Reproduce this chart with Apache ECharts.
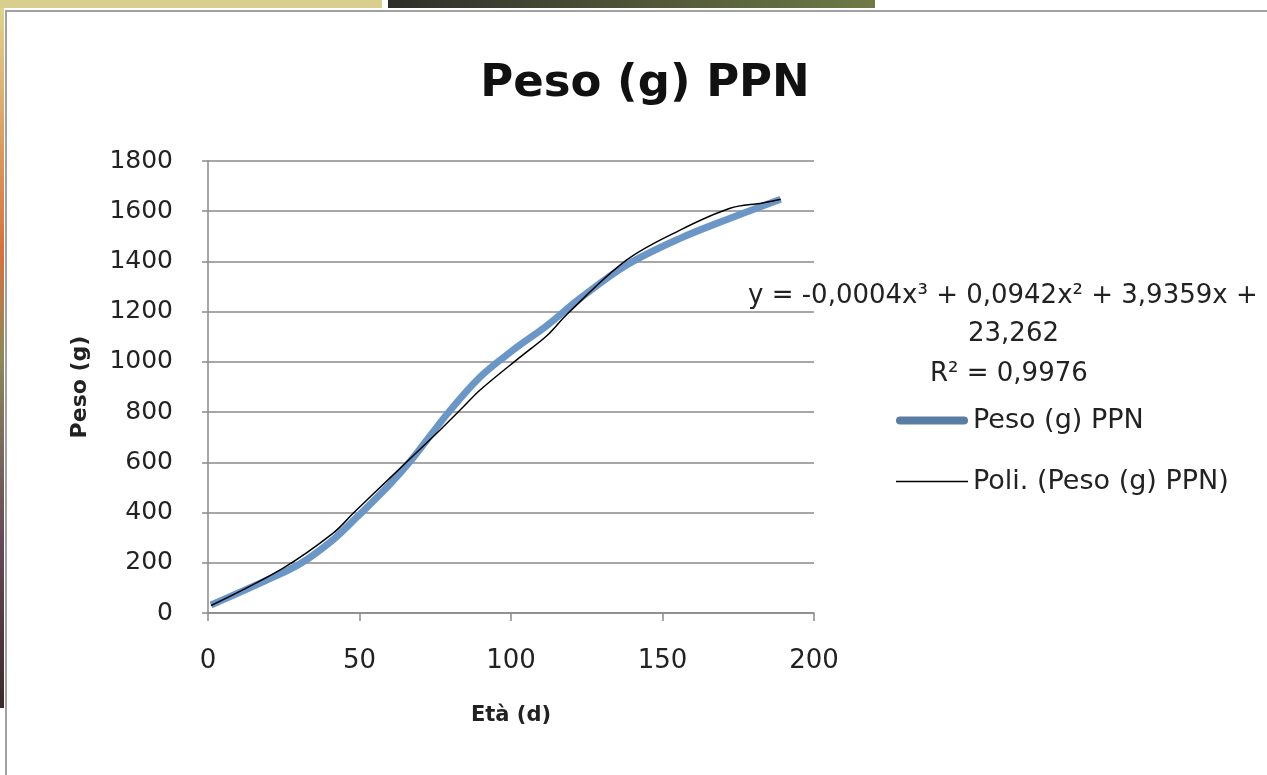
<!DOCTYPE html>
<html>
<head>
<meta charset="utf-8">
<script src="https://cdn.jsdelivr.net/npm/echarts@6/dist/echarts.min.js"></script>
<style>
  html, body { margin: 0; padding: 0; background: #fff; }
  #chart { width: 1267px; height: 775px; }
</style>
</head>
<body>
<div id="chart"></div>
<script>
// dati
var eta = [1, 19.4, 30.4, 41.3, 49, 60, 67.7, 78.9, 89.8, 100.7, 111.9, 122.8, 138.2, 155.8, 172.3, 189];
var peso = [32, 131, 196, 292, 380, 512, 618, 792, 940, 1047, 1145, 1253, 1386, 1492, 1572, 1648];
var etaPoli = [1, 24.8, 41.3, 48, 60, 76.6, 84.2, 89.8, 103, 111.9, 118.5, 138.2, 155.8, 172.3, 183, 189];
var pesoPoli = [30, 179, 318, 398, 537, 729, 820, 888, 1019, 1105, 1190, 1406, 1525, 1612, 1633, 1648];
var xTicks = [0, 50, 100, 150, 200];
var yTicks = [0, 200, 400, 600, 800, 1000, 1200, 1400, 1600, 1800];

var font = '"DejaVu Sans", sans-serif';

function pairs(xs, ys) {
  return xs.map(function (x, i) { return [x, ys[i]]; });
}

var chart = echarts.init(document.getElementById('chart'));

var option = {
  backgroundColor: '#fff',
  animation: false,
  title: {
    text: 'Peso (g) PPN',
    left: 640,
    top: 57,
    textAlign: 'center',
    textStyle: {
      fontFamily: font,
      fontSize: 45,
      fontWeight: 'bold',
      color: '#111'
    }
  },
  grid: {
    left: 208,
    right: 453,
    top: 161,
    bottom: 162
  },
  legend: {
    orient: 'vertical',
    left: 891,
    top: 402,
    itemWidth: 72,
    itemHeight: 30,
    itemGap: 34,
    textStyle: {
      fontFamily: font,
      fontSize: 27,
      color: '#222'
    },
    data: [
      { name: 'Peso (g) PPN', icon: 'path://M4,0 L68,0 A4,4 0 0 1 68,8 L4,8 A4,4 0 0 1 4,0 Z' },
      { name: 'Poli. (Peso (g) PPN)', icon: 'path://M0,0 L72,0 L72,1.6 L0,1.6 Z' }
    ]
  },
  xAxis: {
    type: 'value',
    min: xTicks[0],
    max: xTicks[xTicks.length - 1],
    interval: 50,
    name: 'Età (d)',
    nameLocation: 'middle',
    nameGap: 92,
    nameTextStyle: {
      fontFamily: font,
      fontSize: 21,
      fontWeight: 'bold',
      color: '#222'
    },
    axisLine: { lineStyle: { color: '#8a8a8a', width: 1.5 } },
    axisTick: { show: true, length: 8, lineStyle: { color: '#8a8a8a', width: 1.5 } },
    axisLabel: {
      margin: 35,
      fontFamily: font,
      fontSize: 26,
      color: '#222'
    },
    splitLine: { show: false }
  },
  yAxis: {
    type: 'value',
    min: yTicks[0],
    max: yTicks[yTicks.length - 1],
    interval: 200,
    name: 'Peso (g)',
    nameLocation: 'middle',
    nameGap: 117,
    nameRotate: 90,
    nameTextStyle: {
      fontFamily: font,
      fontSize: 22,
      fontWeight: 'bold',
      color: '#222'
    },
    axisLine: { show: true, lineStyle: { color: '#8a8a8a', width: 1.5 } },
    axisTick: { show: true, length: 6, lineStyle: { color: '#8a8a8a', width: 1.5 } },
    axisLabel: {
      margin: 35,
      fontFamily: font,
      fontSize: 25,
      color: '#222',
      formatter: function (v) { return String(v); }
    },
    splitLine: { show: true, lineStyle: { color: '#8a8a8a', width: 1.5 } }
  },
  series: [
    {
      name: 'Peso (g) PPN',
      type: 'line',
      smooth: 0.35,
      symbol: 'none',
      itemStyle: { color: '#5a7ea3' },
      lineStyle: { width: 7, color: '#6a96c8' },
      data: pairs(eta, peso),
      z: 2
    },
    {
      name: 'Poli. (Peso (g) PPN)',
      type: 'line',
      smooth: 0.35,
      symbol: 'none',
      itemStyle: { color: '#000' },
      lineStyle: { width: 1.5, color: '#000' },
      data: pairs(etaPoli, pesoPoli),
      z: 3
    }
  ],
  graphic: [
    // cornice del grafico
    { type: 'rect', shape: { x: 6, y: 11, width: 1300, height: 800 }, style: { fill: 'none', stroke: '#a0a0a0', lineWidth: 2 }, silent: true },
    // frammenti dell'immagine di sfondo
    { type: 'rect', shape: { x: 0, y: 0, width: 382, height: 8 }, style: { fill: '#d8cf8c' }, silent: true },
    { type: 'rect', shape: { x: 388, y: 0, width: 487, height: 8 },
      style: { fill: new echarts.graphic.LinearGradient(0, 0, 1, 0, [{ offset: 0, color: '#2e2e2a' }, { offset: 1, color: '#6f7a45' }]) }, silent: true },
    { type: 'rect', shape: { x: 0, y: 8, width: 4, height: 700 },
      style: { fill: new echarts.graphic.LinearGradient(0, 0, 0, 1, [{ offset: 0, color: '#e0d48a' }, { offset: 0.35, color: '#d9703c' }, { offset: 0.5, color: '#8a8a5a' }, { offset: 0.75, color: '#6a4a5a' }, { offset: 1, color: '#3a2a2a' }]) }, silent: true },
    // equazione della linea di tendenza
    { type: 'text', left: 748, top: 283, silent: true,
      style: { text: 'y = -0,0004x³ + 0,0942x² + 3,9359x +', font: '26px ' + font, fill: '#222' } },
    { type: 'text', left: 968, top: 321, silent: true,
      style: { text: '23,262', font: '26px ' + font, fill: '#222' } },
    { type: 'text', left: 930, top: 361, silent: true,
      style: { text: 'R² = 0,9976', font: '26px ' + font, fill: '#222' } }
  ]
};

chart.setOption(option);
</script>
</body>
</html>
